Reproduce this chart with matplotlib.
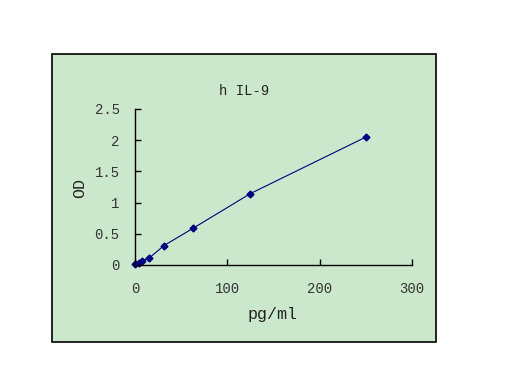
import matplotlib
matplotlib.use("Agg")
import matplotlib.pyplot as plt
from matplotlib.patches import Rectangle

conc = [0, 3.9, 7.8, 15.6, 31.25, 62.5, 125, 250]
od = [0.02, 0.04, 0.07, 0.115, 0.31, 0.585, 1.145, 2.05]
xticks = [0, 100, 200, 300]
yticks = [0, 0.5, 1, 1.5, 2, 2.5]
ytick_labels = ["0", "0.5", "1", "1.5", "2", "2.5"]

plt.rcParams["font.family"] = ["Liberation Mono", "DejaVu Sans Mono"]

fig = plt.figure(figsize=(5.12, 3.84), dpi=100)
fig.patch.set_facecolor("white")

# green chart area with black frame
panel = Rectangle((52 / 512, 1 - 342 / 384), 384 / 512, 288 / 384,
                  transform=fig.transFigure, facecolor="#cce8cc",
                  edgecolor="black", linewidth=1.2, zorder=-1)
fig.patches.append(panel)

ax = fig.add_axes([135 / 512, 1 - 265 / 384, 277 / 512, 156 / 384])
ax.set_zorder(2)
ax.set_facecolor("none")
ax.plot(conc, od, color="#000080", linewidth=0.8, marker="D",
        markersize=3.5, clip_on=False)

ax.set_xlim(0, 300)
ax.set_ylim(0, 2.5)
ax.set_xticks(xticks)
ax.set_yticks(yticks)
ax.set_yticklabels(ytick_labels)
for s in ["top", "right"]:
    ax.spines[s].set_visible(False)
for s in ["left", "bottom"]:
    ax.spines[s].set_linewidth(1.0)
ax.tick_params(direction="in", length=4, width=1.0, labelsize=10,
               labelcolor="#333333")
ax.tick_params(axis="x", pad=12)
ax.tick_params(axis="y", pad=11)

fig.text(244 / 512, 1 - 91 / 384, "h IL-9", ha="center", va="center",
         fontsize=10, color="#222222")
fig.text(273 / 512, 1 - 315 / 384, "pg/ml", ha="center", va="center",
         fontsize=12, color="#222222")
fig.text(80 / 512, 1 - 188 / 384, "OD", ha="center", va="center",
         fontsize=12, rotation=90, color="#222222")

fig.savefig("out.png", dpi=100)
